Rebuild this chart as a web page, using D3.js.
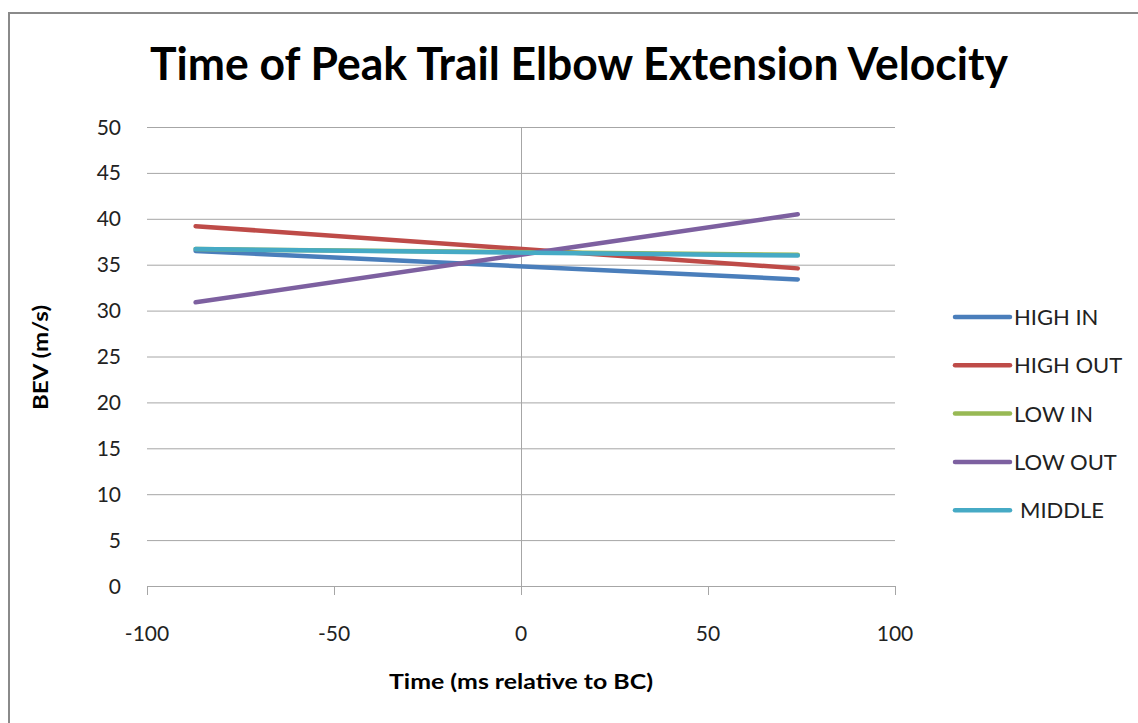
<!DOCTYPE html>
<html>
<head>
<meta charset="utf-8">
<script src="https://d3js.org/d3.v7.min.js"></script>
<style>
body { margin: 0; background: #fff; }
svg { display: block; font-family: Lato, 'Open Sans', sans-serif; }
.grid line { stroke: #a6a6a6; stroke-width: 1; }
.tick-label { font-size: 21px; fill: #222; }
</style>
</head>
<body>
<svg></svg>
<script>

var width = 1138,
    height = 723;

// Data: two end points per series
var times = [-87, 74];
var highIn = [36.5, 33.4];
var highOut = [39.2, 34.6];
var lowIn = [36.7, 36.08];
var lowOut = [30.9, 40.5];
var middle = [36.7, 36.0];

var seriesNames = ['HIGH IN', 'HIGH OUT', 'LOW IN', 'LOW OUT', 'MIDDLE'];
var seriesValues = [highIn, highOut, lowIn, lowOut, middle];
var seriesColors = ['#4a7ebb', '#be4b48', '#98b954', '#7d60a0', '#46aac5'];

var xTicks = [-100, -50, 0, 50, 100];
var yTicks = [0, 5, 10, 15, 20, 25, 30, 35, 40, 45, 50];

var x = d3.scaleLinear().domain([-100, 100]).range([147, 895]);
var y = d3.scaleLinear().domain([0, 50]).range([586, 127]);

var svg = d3.select('svg')
  .attr('width', width)
  .attr('height', height);

// outer chart border (runs off the page right and bottom)
svg.append('rect')
  .attr('x', 9)
  .attr('y', 13)
  .attr('width', 1140)
  .attr('height', 730)
  .attr('fill', '#fff')
  .attr('stroke', '#8a8a8a')
  .attr('stroke-width', 2);

// title
svg.append('text')
  .attr('x', 579)
  .attr('y', 80)
  .attr('text-anchor', 'middle')
  .attr('font-size', 46)
  .attr('font-weight', 'bold')
  .attr('textLength', 858)
  .attr('lengthAdjust', 'spacingAndGlyphs')
  .text('Time of Peak Trail Elbow Extension Velocity');

// horizontal gridlines
svg.append('g')
  .attr('class', 'grid')
  .selectAll('line')
  .data(yTicks)
  .enter().append('line')
  .attr('x1', x(-100))
  .attr('x2', x(100))
  .attr('y1', function(d) { return y(d) + 0.5; })
  .attr('y2', function(d) { return y(d) + 0.5; });

// vertical axis at x = 0
svg.append('line')
  .attr('x1', x(0) + 0.5)
  .attr('x2', x(0) + 0.5)
  .attr('y1', y(50))
  .attr('y2', y(0))
  .attr('stroke', '#a6a6a6');

// x axis ticks
svg.append('g')
  .selectAll('line')
  .data(xTicks)
  .enter().append('line')
  .attr('x1', function(d) { return Math.round(x(d)) + 0.5; })
  .attr('x2', function(d) { return Math.round(x(d)) + 0.5; })
  .attr('y1', y(0))
  .attr('y2', y(0) + 9)
  .attr('stroke', '#a6a6a6');

// y tick labels
svg.append('g')
  .selectAll('text')
  .data(yTicks)
  .enter().append('text')
  .attr('class', 'tick-label')
  .attr('x', 121)
  .attr('y', function(d) { return y(d) + 7.5; })
  .attr('text-anchor', 'end')
  .text(function(d) { return d; });

// x tick labels
svg.append('g')
  .selectAll('text')
  .data(xTicks)
  .enter().append('text')
  .attr('class', 'tick-label')
  .attr('x', function(d) { return x(d); })
  .attr('y', 641)
  .attr('text-anchor', 'middle')
  .text(function(d) { return d; });

// axis titles
svg.append('text')
  .attr('x', x(0))
  .attr('y', 689)
  .attr('text-anchor', 'middle')
  .attr('font-size', 21)
  .attr('font-weight', 'bold')
  .attr('textLength', 264)
  .attr('lengthAdjust', 'spacingAndGlyphs')
  .text('Time (ms relative to BC)');

svg.append('text')
  .attr('transform', 'translate(48,' + (y(25) + 1) + ') rotate(-90)')
  .attr('text-anchor', 'middle')
  .attr('font-size', 21)
  .attr('font-weight', 'bold')
  .attr('textLength', 105)
  .attr('lengthAdjust', 'spacingAndGlyphs')
  .text('BEV (m/s)');

// series lines
var line = d3.line()
  .x(function(d, i) { return x(times[i]); })
  .y(function(d) { return y(d); });

svg.append('g')
  .selectAll('path')
  .data(seriesValues)
  .enter().append('path')
  .attr('d', line)
  .attr('fill', 'none')
  .attr('stroke', function(d, i) { return seriesColors[i]; })
  .attr('stroke-width', 4.5)
  .attr('stroke-linecap', 'round');

// legend
var legend = svg.append('g')
  .selectAll('g')
  .data(seriesNames)
  .enter().append('g')
  .attr('transform', function(d, i) { return 'translate(955,' + (317 + i * 48.3) + ')'; });

legend.append('line')
  .attr('x1', 0)
  .attr('x2', 55)
  .attr('stroke', function(d, i) { return seriesColors[i]; })
  .attr('stroke-width', 4.5)
  .attr('stroke-linecap', 'round');

legend.append('text')
  .attr('x', function(d) { return d === 'MIDDLE' ? 65 : 59; })
  .attr('y', 8)
  .attr('font-size', 22)
  .attr('fill', '#222')
  .text(function(d) { return d; });

</script>
</body>
</html>
